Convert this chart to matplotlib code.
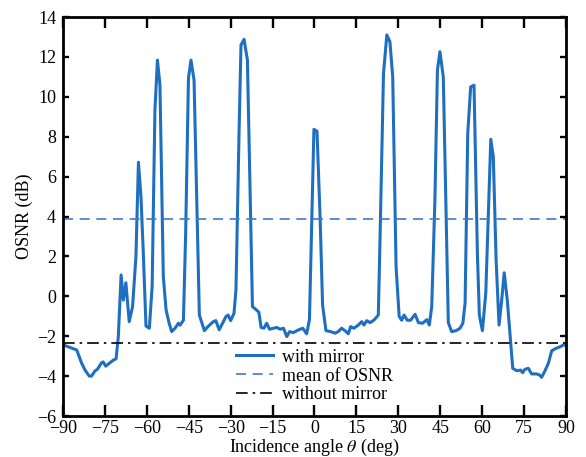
import matplotlib
matplotlib.use("Agg")
import matplotlib.pyplot as plt

angle = [-90, -88.7, -85.1, -83.3, -82.1, -80.6, -79.8, -78.5, -77.7, -76.2, -75.6, -74.7,
         -73.2, -72, -71, -70.2, -69.2, -68.4, -67.5, -66.3, -65.1, -63.9, -63.0, -62.1,
         -61.3, -60.3, -59.1, -58.1, -57.1, -56.2, -55.3, -54.1, -53.1, -52.0, -51.1, -49.9,
         -48.7, -48.1, -46.9, -46.1, -45.1, -44.2, -43.1, -41.2, -39.4, -38.0, -36.2, -35.3,
         -34.1, -32.6, -31.7, -30.9, -30.0, -28.8, -28.1, -27.0, -26.3, -25.2, -24.0, -22.2,
         -20.7, -19.9, -19.1, -18.1, -17.1, -16.1, -14.7, -13.5, -12.3, -11.1, -9.9, -8.9,
         -7.6, -5.8, -4.2, -2.8, -1.8, -0.2, 0.9, 2.0, 2.9, 4.1, 5.8, 7.35, 8.5, 9.7, 10.9,
         12.1, 12.95, 14.1, 15.7, 16.9, 17.7, 18.7, 19.9, 21.3, 22.85, 23.5, 24.7, 25.9, 27.0,
         28.0, 29.2, 30.3, 31.2, 32.05, 33.2, 34.4, 36.0, 37.2, 38.7, 40.2, 41.1, 41.96, 43.1,
         44.0, 44.9, 46.1, 47.9, 49.1, 50.7, 52.1, 53.1, 53.9, 54.85, 55.9, 57.1, 58.3, 59.0,
         60.1, 61.3, 62.2, 63.1, 64.0, 65.0, 66.05, 67.0, 67.9, 69.0, 70.95, 72.4, 73.8, 74.5,
         75.3, 76.55, 77.7, 79.5, 80.5, 81.3, 82.5, 83.7, 84.9, 86.45, 87.9, 89.1, 90]
osnr = [-2.44, -2.5, -2.69, -3.36, -3.7, -4.0, -4.0, -3.73, -3.66, -3.33, -3.29, -3.5,
        -3.33, -3.2, -3.13, -2.02, 1.07, -0.19, 0.68, -1.27, -0.52, 1.99, 6.72, 5.0,
        2.32, -1.49, -1.6, 0.48, 9.34, 11.84, 10.59, 0.98, -0.69, -1.35, -1.77, -1.6,
        -1.35, -1.45, -1.2, 3.16, 10.93, 11.84, 10.84, -0.94, -1.72, -1.5, -1.27, -1.22,
        -1.68, -1.27, -1.02, -0.94, -1.22, -0.85, 0.32, 8.17, 12.6, 12.88, 11.84, -0.52,
        -0.69, -0.8, -1.56, -1.6, -1.35, -1.65, -1.6, -1.56, -1.65, -1.6, -2.02, -1.77,
        -1.82, -1.69, -1.6, -1.88, -1.17, 8.37, 8.27, 3.99, -0.44, -1.72, -1.77, -1.85, -1.77,
        -1.6, -1.72, -1.88, -1.52, -1.6, -1.44, -1.27, -1.44, -1.22, -1.32, -1.19, -0.94,
        3.16, 11.18, 13.1, 12.76, 11.0, 1.48, -1.0, -1.2, -0.94, -1.2, -1.2, -0.9, -1.32,
        -1.35, -1.17, -1.44, -0.52, 4.83, 11.34, 12.26, 11.0, -1.32, -1.77, -1.72, -1.6,
        -1.35, -0.35, 8.17, 10.5, 10.58, 2.15, -0.94, -1.72, 0.15, 4.0, 7.87, 7.0, 1.82,
        -1.44, -0.2, 1.18, -0.19, -3.61, -3.73, -3.7, -3.83, -3.66, -3.61, -3.89, -3.89,
        -3.94, -4.06, -3.73, -3.36, -2.73, -2.61, -2.53, -2.44, -2.44]
mean_osnr = 3.85
no_mirror = -2.36

xticks = list(range(-90, 91, 15))
yticks = list(range(-6, 15, 2))

plt.rcParams['font.family'] = ['Liberation Serif', 'DejaVu Serif']
plt.rcParams['mathtext.fontset'] = 'stix'
plt.rcParams['axes.unicode_minus'] = True

fig = plt.figure(figsize=(5.86, 4.57), dpi=100)
ax = fig.add_axes([0.1075, 0.0897, 0.8583, 0.8731])

ax.plot(angle, osnr, color='#1f6fc0', lw=2.2, label='with mirror')
ax.axhline(mean_osnr, color='#3a7dc8', lw=1.2, ls=(0, (6, 4)), label='mean of OSNR')
ax.axhline(no_mirror, color='black', lw=1.2, ls=(0, (7, 3, 1.5, 3)), label='without mirror')

ax.set_xlim(-90, 90)
ax.set_ylim(-6, 14)
ax.set_xticks(xticks)
ax.set_yticks(yticks)
ax.tick_params(axis='x', direction='in', length=8, width=1.7, top=True,
               labelsize=13, pad=3)
ax.tick_params(axis='y', direction='in', length=4.5, width=1.7, right=True,
               labelsize=13, pad=5)
for s in ax.spines.values():
    s.set_linewidth(2.0)

ax.set_xlabel(r'Incidence angle $\theta$ (deg)', fontsize=13, labelpad=0)
ax.set_ylabel('OSNR (dB)', fontsize=13, labelpad=3)

ax.legend(loc='lower center', bbox_to_anchor=(0.5, 0.0), frameon=False, fontsize=13,
          handlelength=2.0, handletextpad=0.5, labelspacing=0.1, borderaxespad=0.3)

fig.savefig('out.png', dpi=100)
